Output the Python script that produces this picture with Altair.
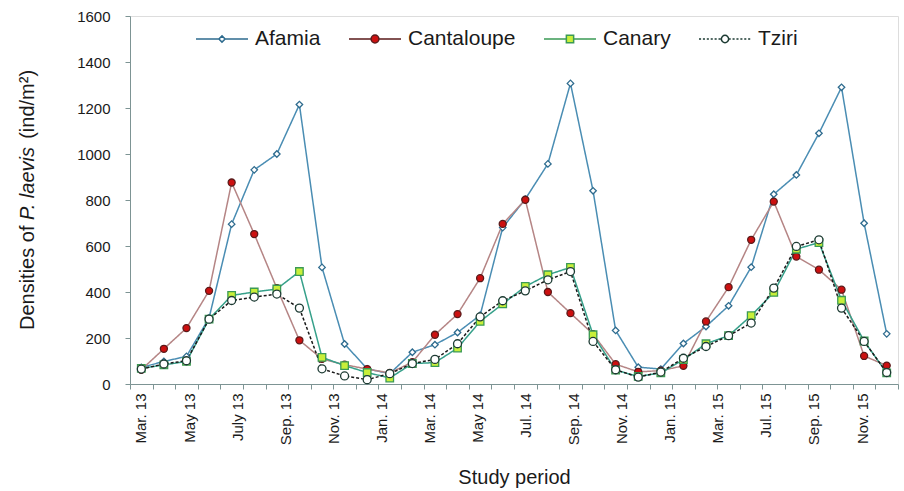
import altair as alt
import pandas as pd

# ---------------- data ----------------
months = ["Mar. 13", "Apr. 13", "May 13", "Jun. 13", "Jul. 13", "Aug. 13", "Sep. 13", "Oct. 13",
          "Nov. 13", "Dec. 13", "Jan. 14", "Feb. 14", "Mar. 14", "Apr. 14", "May 14", "Jun. 14",
          "Jul. 14", "Aug. 14", "Sep. 14", "Oct. 14", "Nov. 14", "Dec. 14", "Jan. 15", "Feb. 15",
          "Mar. 15", "Apr. 15", "May 15", "Jun. 15", "Jul. 15", "Aug. 15", "Sep. 15", "Oct. 15",
          "Nov. 15", "Dec. 15"]

afamia = [72, 98, 120, 287, 695, 931, 1000, 1215, 507, 174, 66, 45, 138, 171, 224, 299,
          680, 804, 957, 1307, 840, 233, 73, 65, 176, 250, 340, 508, 825, 909, 1090, 1290, 699, 218]
cantaloupe = [62, 153, 243, 405, 876, 652, 417, 190, 109, 84, 65, 48, 95, 214, 304, 460,
              696, 801, 400, 308, 217, 86, 53, 58, 79, 272, 421, 627, 793, 554, 497, 410, 122, 80]
canary = [68, 83, 98, 282, 385, 400, 413, 489, 116, 80, 50, 26, 89, 93, 156, 272,
          348, 424, 475, 507, 214, 60, 33, 48, 106, 175, 210, 297, 398, 586, 615, 364, 187, 48]
tziri = [65, 87, 101, 282, 363, 378, 391, 330, 66, 35, 19, 45, 89, 107, 175, 292,
         362, 405, 453, 489, 185, 62, 30, 52, 112, 163, 210, 265, 417, 598, 627, 330, 185, 50]

series = ["Afamia", "Cantaloupe", "Canary", "Tziri"]
tick_labels = ["Mar. 13", "May 13", "July 13", "Sep. 13", "Nov. 13", "Jan. 14", "Mar. 14", "May 14",
               "Jul. 14", "Sep. 14", "Nov. 14", "Jan. 15", "Mar. 15", "Jul. 15", "Sep. 15", "Nov. 15"]

# y-axis title in three runs (the species name is italic)
y_title_parts = ["Densities of", "P. laevis", "(ind/m²)"]
y_title_styles = ["normal", "italic", "normal"]

# ---------------- styles ----------------
FONT = "Liberation Sans"
line_colors = ["#4a8db3", "#b58585", "#36a08a", "#1a1a1a"]
marker_fill = ["#ffffff", "#cc1010", "#c8ef3a", "#ffffff"]
marker_stroke = ["#2e6b8e", "#5a1a1a", "#3b9a55", "#1d3b33"]
marker_shape = ["diamond", "circle", "square", "circle"]
marker_size = [42, 64, 49, 52]
dashes = [[1, 0], [1, 0], [1, 0], [3, 2]]
axis_col = "#7d9494"
text_col = "#1a1a1a"

rows = []
for name, vals in zip(series, [afamia, cantaloupe, canary, tziri]):
    for i, v in enumerate(vals):
        rows.append({"series": name, "idx": i, "month": months[i], "value": v})
df = pd.DataFrame(rows)

# legend symbols: line + marker (coordinates in [-1, 1])
def solid(r):
    return f"M-1,0H{-r}M{r},0H1"

def dotted(r):
    segs = []
    d, g = 0.08, 0.07
    x = -1.0
    while x < -r:
        segs.append(f"M{x:.3f},0H{min(x + d, -r):.3f}")
        x += d + g
    x = r
    while x < 1:
        segs.append(f"M{x:.3f},0H{min(x + d, 1):.3f}")
        x += d + g
    return "".join(segs)

def circ(r):
    return f"M{-r},0A{r},{r},0,1,1,{r},0A{r},{r},0,1,1,{-r},0Z"

def diam(r):
    return f"M0,{-r}L{r},0L0,{r}L{-r},0Z"

def sq(r):
    return f"M{-r},{-r}H{r}V{r}H{-r}Z"

legend_paths = [solid(0.12) + diam(0.12), solid(0.15) + circ(0.15),
                solid(0.14) + sq(0.14), dotted(0.14) + circ(0.14)]

x_ticks = [i - 0.5 for i in range(len(months) + 1)]

y_enc = alt.Y("value:Q",
              scale=alt.Scale(domain=[0, 1600], nice=False, zero=True),
              axis=alt.Axis(values=list(range(0, 1601, 200)), grid=False, format="d",
                            title=None,
                            labelFontSize=15, labelFont=FONT, labelColor=text_col,
                            labelPadding=15, tickSize=5, tickColor=axis_col,
                            domainColor=axis_col, labelFlush=False))

x_scale = alt.Scale(domain=[-0.5, len(months) - 0.5], nice=False, zero=False)

lines = alt.Chart(df).mark_line(strokeWidth=1.5).encode(
    x=alt.X("idx:Q", scale=x_scale,
            axis=alt.Axis(orient="bottom", values=x_ticks, labels=False, title=None,
                          grid=False, tickSize=5, tickColor=axis_col, domainColor=axis_col)),
    y=y_enc,
    stroke=alt.Stroke("series:N", scale=alt.Scale(domain=series, range=line_colors), legend=None),
    strokeDash=alt.StrokeDash("series:N", scale=alt.Scale(domain=series, range=dashes), legend=None),
    order="idx:Q",
)

points = alt.Chart(df).mark_point(opacity=1, strokeWidth=1.3, filled=False).encode(
    x=alt.X("idx:Q", scale=x_scale, axis=None),
    y=y_enc,
    shape=alt.Shape("series:N", scale=alt.Scale(domain=series, range=marker_shape), legend=None),
    fill=alt.Fill("series:N", scale=alt.Scale(domain=series, range=marker_fill), legend=None),
    stroke=alt.Stroke("series:N", scale=alt.Scale(domain=series, range=marker_stroke), legend=None),
    size=alt.Size("series:N", scale=alt.Scale(domain=series, range=marker_size), legend=None),
)

legend_df = pd.DataFrame({"series": series})
legend_layer = alt.Chart(legend_df).transform_filter("false").mark_point(
    opacity=1, strokeWidth=1.5
).encode(
    shape=alt.Shape("series:N", scale=alt.Scale(domain=series, range=legend_paths),
                    legend=alt.Legend(title=None, orient="none", legendX=65, legendY=-4,
                                      direction="horizontal", symbolSize=2704,
                                      symbolStrokeWidth=1.5, labelFontSize=21, labelFont=FONT,
                                      labelColor=text_col, labelOffset=6, columnPadding=25,
                                      padding=0)),
    fill=alt.Fill("series:N", scale=alt.Scale(domain=series, range=marker_fill)),
    stroke=alt.Stroke("series:N", scale=alt.Scale(domain=series, range=marker_stroke)),
)

label_df = pd.DataFrame({"label": tick_labels})
label_layer = alt.Chart(label_df).mark_point(opacity=0).encode(
    x=alt.X("label:N", sort=tick_labels,
            scale=alt.Scale(type="point", padding=0.4885, align=0.234),
            axis=alt.Axis(orient="bottom", labelAngle=270, ticks=False, tickSize=0, domain=False,
                          labelPadding=9, labelFontSize=15, labelFont=FONT, labelColor=text_col,
                          labelOverlap=False, grid=False,
                          title="Study period", titleFontSize=20, titleFont=FONT,
                          titleFontWeight="normal", titleColor=text_col, titlePadding=23)),
)

# y title runs, placed along the left margin (Liberation Sans = Arial metrics, 20 px)
TITLE_FS = 20
run_widths = [104.5, 75.6, 68.9]   # widths of the three runs at 20 px
space_w = 5.56
total = sum(run_widths) + 2 * space_w
start = 184 + total / 2            # plot-relative y of the text start (reads upward)
title_layers = []
pos = start
for part, style, w in zip(y_title_parts, y_title_styles, run_widths):
    title_layers.append(
        alt.Chart(pd.DataFrame({"t": [part]})).mark_text(
            angle=270, align="left", baseline="alphabetic", fontSize=TITLE_FS,
            font=FONT, fontStyle=style, color=text_col
        ).encode(x=alt.value(-96), y=alt.value(pos), text="t:N")
    )
    pos -= w + space_w

chart = alt.layer(lines, points, legend_layer, label_layer, *title_layers).resolve_scale(
    x="independent", stroke="independent", fill="independent", shape="independent"
).properties(
    width=768, height=368,
    padding={"left": 130, "top": 16, "right": 6, "bottom": 107},
    autosize=alt.AutoSizeParams(type="none"),
    background="white",
).configure_view(stroke=None).configure(font=FONT)

chart.save("out.html", embed_options={"renderer": "svg", "actions": False})
